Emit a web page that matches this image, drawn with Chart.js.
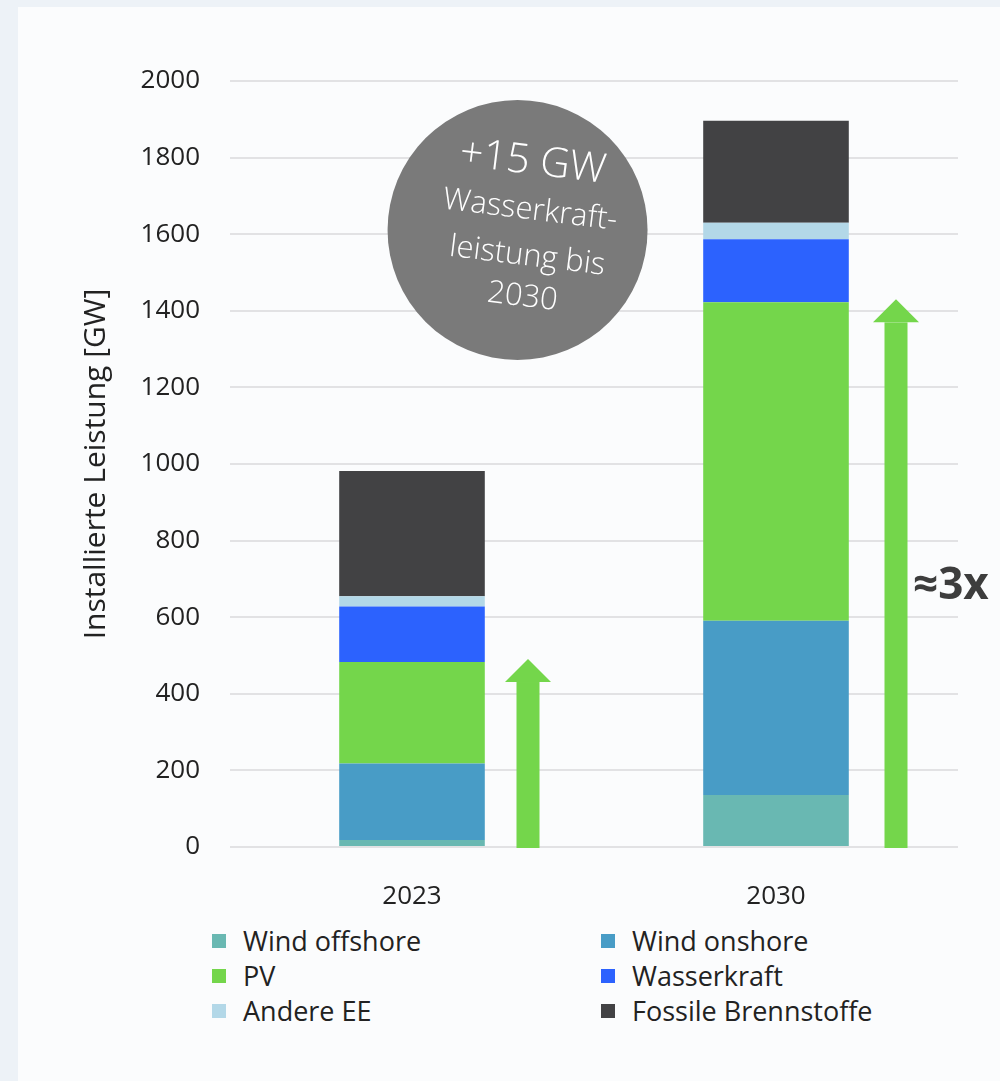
<!DOCTYPE html>
<html>
<head>
<meta charset="utf-8">
<script src="https://cdn.jsdelivr.net/npm/chart.js@4.4.1/dist/chart.umd.min.js"></script>
<title>Installierte Leistung</title>
<style>
  html, body { margin: 0; padding: 0; }
  body { width: 1000px; height: 1081px; background: #edf2f7; position: relative; overflow: hidden; font-family: 'Open Sans', sans-serif; }
  #panel { position: absolute; left: 18px; top: 7px; right: 0; bottom: 0; background: #fbfcfd; }
  #wrap { position: absolute; left: 0; top: 0; width: 1000px; height: 910px; }
  #legend { position: absolute; left: 212px; top: 923px; width: 740px; display: grid; grid-template-columns: 389px 340px; grid-auto-rows: 35px; }
  #legend div { display: flex; align-items: center; font-size: 27px; color: #222; white-space: nowrap; }
  #legend span { display: inline-block; width: 14px; height: 14px; margin-right: 17px; }
</style>
</head>
<body>
<div id="panel"></div>
<div id="wrap"><canvas id="chart"></canvas></div>
<div id="legend"></div>
<script>
const years = ['2023', '2030'];
const windOffshore = [18, 136];
const windOnshore = [200, 455];
const pv = [265, 831];
const wasserkraft = [145, 165];
const andereEE = [27, 43];
const fossil = [327, 266];

const seriesNames = ['Wind offshore', 'Wind onshore', 'PV', 'Wasserkraft', 'Andere EE', 'Fossile Brennstoffe'];
const seriesColors = ['#69b8b2', '#489cc6', '#74d64b', '#2c62fe', '#b3d8e8', '#424244'];
const seriesData = [windOffshore, windOnshore, pv, wasserkraft, andereEE, fossil];

// wind + PV per year, used for the growth arrows
const growth = years.map((y, i) => windOffshore[i] + windOnshore[i] + pv[i]);

const font = "'Open Sans', sans-serif";

const extras = {
  id: 'extras',
  afterDatasetsDraw(chart) {
    const ctx = chart.ctx;
    const x = chart.scales.x, y = chart.scales.y;
    const base = y.getPixelForValue(0);
    ctx.save();

    // arrows next to the bars
    ctx.fillStyle = '#74d64b';
    growth.forEach((v, i) => {
      const cx = x.getPixelForValue(i) + 116 + i * 4;
      const tip = y.getPixelForValue(v) - 3;
      const head = 23;
      ctx.fillRect(cx - 11.5, tip + head, 23, base + 1 - tip - head);
      ctx.beginPath();
      ctx.moveTo(cx, tip);
      ctx.lineTo(cx + 23, tip + head);
      ctx.lineTo(cx - 23, tip + head);
      ctx.closePath();
      ctx.fill();
    });

    // ratio label beside the 2030 arrow
    const ax = x.getPixelForValue(1) + 120 + 17;
    const ay = (base + y.getPixelForValue(growth[1])) / 2 + 12;
    ctx.fillStyle = '#3d3d3d';
    ctx.font = 'bold 44px ' + font;
    ctx.textAlign = 'left';
    ctx.textBaseline = 'middle';
    ctx.fillText('\u22483x', ax, ay);

    // grey bubble about hydropower
    const bx = x.getPixelForValue(0.29);
    const by = y.getPixelForValue(1611);
    ctx.fillStyle = '#7a7a7a';
    ctx.beginPath();
    ctx.arc(bx, by, 130, 0, Math.PI * 2);
    ctx.fill();
    ctx.translate(bx + 8, by);
    ctx.rotate(7 * Math.PI / 180);
    ctx.fillStyle = '#ffffff';
    ctx.textAlign = 'center';
    ctx.textBaseline = 'middle';
    ctx.font = '300 41px ' + font;
    ctx.fillText('+15 GW', -1, -68);
    ctx.font = '300 31px ' + font;
    ctx.fillText('Wasserkraft-', 2, -20);
    ctx.fillText('leistung bis', 5, 26);
    ctx.fillText('2030', 5, 67);
    ctx.restore();
  }
};

const chart = new Chart(document.getElementById('chart'), {
  type: 'bar',
  data: {
    labels: years,
    datasets: seriesNames.map((name, i) => ({
      label: name,
      data: seriesData[i],
      backgroundColor: seriesColors[i],
      borderWidth: 0,
      barPercentage: 0.4,
      categoryPercentage: 1
    }))
  },
  options: {
    responsive: true,
    maintainAspectRatio: false,
    animation: false,
    layout: { padding: { left: 78, top: 81, right: 42, bottom: 0 } },
    plugins: { legend: { display: false }, tooltip: { enabled: false } },
    scales: {
      x: {
        stacked: true,
        grid: { display: false },
        border: { display: false },
        ticks: { color: '#222', font: { family: font, size: 26 }, padding: 26 },
        afterFit(s) { s.height = 63; }
      },
      y: {
        stacked: true,
        min: 0,
        max: 2000,
        grid: { color: '#e2e2e4', lineWidth: 2, drawTicks: false },
        border: { display: false },
        ticks: { stepSize: 200, color: '#222', font: { family: font, size: 26 }, padding: 30, callback: v => String(v) },
        title: { display: true, text: 'Installierte Leistung [GW]', color: '#222', font: { family: font, size: 30 }, padding: 0 },
        afterFit(s) { s.width = 152; }
      }
    }
  },
  plugins: [extras]
});

// two-column legend built from the chart's datasets
const legend = document.getElementById('legend');
chart.data.datasets.forEach(ds => {
  const item = document.createElement('div');
  const box = document.createElement('span');
  box.style.background = ds.backgroundColor;
  item.appendChild(box);
  item.appendChild(document.createTextNode(ds.label));
  legend.appendChild(item);
});
</script>
</body>
</html>
